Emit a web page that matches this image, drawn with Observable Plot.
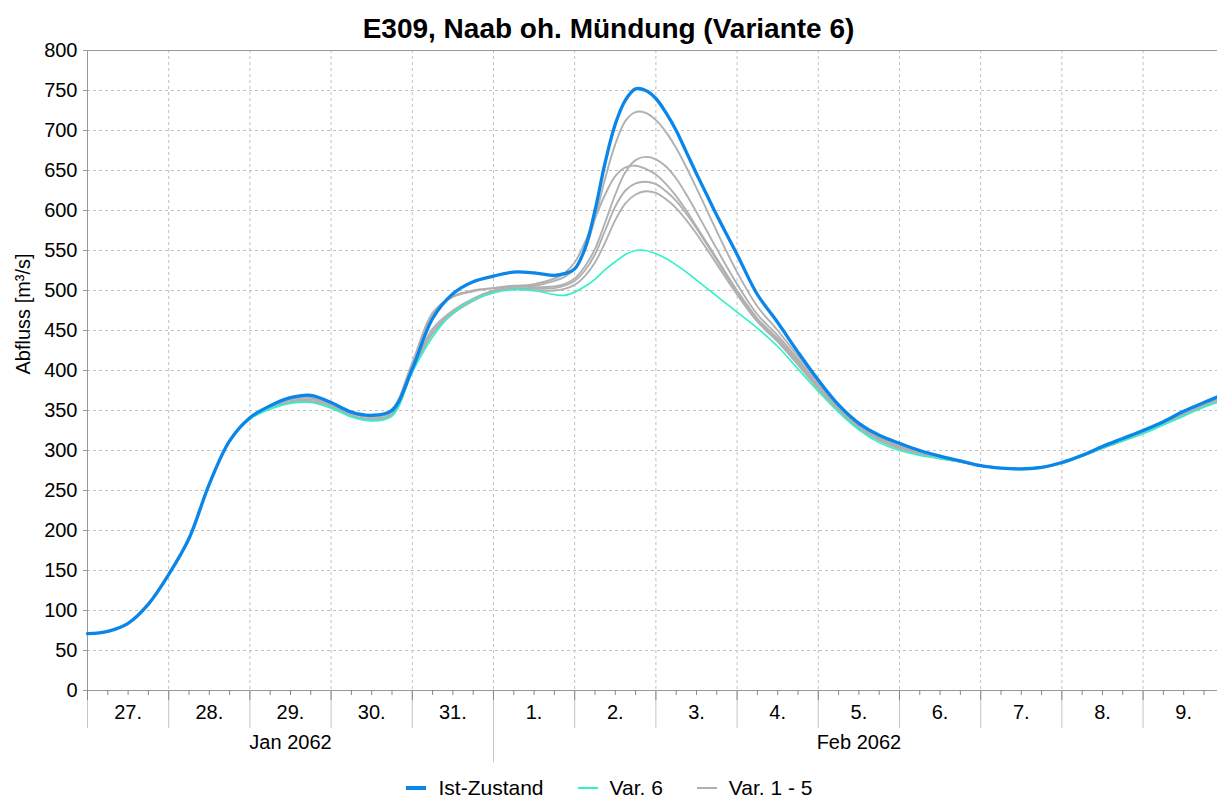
<!DOCTYPE html>
<html><head><meta charset="utf-8">
<script src="https://cdn.jsdelivr.net/npm/d3@7"></script>
<script src="https://cdn.jsdelivr.net/npm/@observablehq/plot@0.6"></script>
<style>
body{margin:0;background:#fff;font-family:"Liberation Sans",Arial,sans-serif;color:#000;}
#title{height:40px;box-sizing:border-box;padding-top:14px;text-align:center;font-weight:bold;font-size:28px;line-height:30px;white-space:nowrap;}
#chart{height:732px;}
#legend{height:28px;box-sizing:border-box;padding-top:3px;display:flex;justify-content:center;align-items:center;font-size:21px;line-height:28px;padding-left:2px;}
.item{display:flex;align-items:center;margin:0 17px;}
.sw{width:20px;margin-right:12px;}
</style></head><body>
<div id="title">E309, Naab oh. Mündung (Variante 6)</div>
<div id="chart"></div>
<div id="legend"></div>
<script>
// ---- data (hours since 27 Jan 2062 00:00) ----
const hours = [0,6,12,18,24,30,36,42,48,54,60,66,72,78,84,90,96,102,108,114,120,126,132,138,
  141,144,147,150,153,156,159,162,165,168,171,174,177,180,183,186,
  192,198,204,210,216,222,228,234,240,246,252,258,264,270,276,282,288,294,300,306,312,318,324,330,334];

const istZustand = [71,74,84,108,145,190,258,312,341,356,366,369,360,348,344,350,402,465,496,511,518,523,522,519,
  521,527,552,600,660,708,738,752,750,740,722,700,673,646,620,594,
  545,495,460,423,388,357,334,319,309,300,293,287,281,278,277,279,285,294,305,315,325,336,349,360,367];

const var6 = [71,74,84,108,145,190,258,312,339,352,359,360,353,342,337,343,398,442,472,488,497,501,500,495,
  494,498,505,514,526,536,545,550,550,546,540,532,523,513,503,493,
  473,453,430,402,374,348,326,310,300,294,290,286,281,278,276,278,284,293,303,312,321,332,343,354,360];

const var1 = [71,74,84,108,145,190,258,312,341,356,366,368,360,348,343,352,410,472,493,500,503,506,506,512,
  517,527,550,590,640,683,712,723,722,713,698,678,654,628,601,574,
  523,480,450,418,386,355,331,316,306,298,292,287,281,278,277,279,285,294,305,314,324,335,347,358,364];
const var2 = [71,74,84,108,145,190,258,312,341,355,364,366,358,346,342,349,408,470,492,499,503,505,504,505,
  508,515,530,552,585,620,648,663,667,664,655,640,620,598,575,552,
  508,470,444,414,383,353,330,315,305,297,291,286,281,278,277,279,285,293,304,313,323,334,346,357,363];
const var3 = [71,74,84,108,145,190,258,312,340,354,362,364,356,344,340,346,400,452,475,490,500,505,508,515,
  522,535,560,590,620,643,654,656,652,645,633,618,600,580,560,540,
  500,465,440,411,380,351,329,314,304,297,291,286,281,278,277,279,284,293,304,313,323,334,346,357,363];
const var4 = [71,74,84,108,145,190,258,312,340,353,361,362,354,343,339,345,400,448,473,488,499,503,502,503,
  506,512,525,545,575,605,625,634,636,633,624,612,596,578,558,538,
  498,463,438,409,378,350,328,313,303,296,290,286,281,278,277,279,284,293,303,312,322,333,345,356,362];
const var5 = [71,74,84,108,145,190,258,312,340,353,360,361,354,343,339,344,399,446,471,487,498,502,500,500,
  502,507,518,535,560,588,609,620,624,622,614,603,588,571,552,533,
  495,461,436,407,377,349,327,313,302,296,290,286,281,278,277,279,284,293,303,312,322,333,345,356,362];

const dayLabels = ["27.","28.","29.","30.","31.","1.","2.","3.","4.","5.","6.","7.","8.","9."];
const monthLabels = ["Jan 2062","Feb 2062"];
const monthSpanDays = [[0,5],[5,14]];   // day offsets from 27 Jan
const yTicks = d3.range(0, 801, 50);

const seriesNames = ["Ist-Zustand","Var. 6","Var. 1 - 5"];
const seriesColors = ["#0a86ea","#33f2c9","#b0b0b0"];
const seriesWidths = [3.3,1.7,1.9];

// ---- build ----
const H = 3600000;
const base = Date.UTC(2062,0,27);
const T = h => new Date(base + h*H);
const rows = (vals, key) => hours.map((h,i) => ({date:T(h), value:vals[i], key}));

const grayRows = [var1,var2,var3,var4,var5].flatMap((v,k) => rows(v, "v"+(k+1)));
const greenRows = rows(var6, "v6");
const blueRows = rows(istZustand, "ist");

const dayStarts = dayLabels.map((d,i) => T(i*24));
const dayMids = dayLabels.map((d,i) => ({date:T(i*24+12), label:d}));
const minor = d3.range(6, 334, 6).filter(h => h % 24 !== 0).map(T);
const monthMids = monthLabels.map((m,i) => ({date:T((monthSpanDays[i][0]+monthSpanDays[i][1])*12), label:m}));
const monthBoundary = [T(monthSpanDays[1][0]*24)];

const chart = Plot.plot({
  width:1217, height:732,
  marginTop:10, marginBottom:82, marginLeft:87, marginRight:0,
  style:{fontFamily:"'Liberation Sans', Arial, sans-serif", fontSize:"20px", color:"#000", background:"#fff"},
  x:{type:"utc", domain:[T(0), T(334)]},
  y:{domain:[0,800]},
  marks:[
    Plot.gridY(yTicks.filter(v => v>0 && v<800), {stroke:"#c0c0c0", strokeOpacity:1, strokeDasharray:"3,3"}),
    Plot.gridX(dayStarts.slice(1), {stroke:"#c0c0c0", strokeOpacity:1, strokeDasharray:"3,3"}),
    Plot.ruleY([0,800], {stroke:"#999"}),
    Plot.ruleX([T(0)], {stroke:"#999"}),
    Plot.axisY(yTicks, {tickSize:4, tickPadding:6, stroke:"#999", fontSize:20, label:null}),
    Plot.axisX(dayStarts, {tickSize:38, stroke:"#c4c4c4", tickFormat:() => "", label:null}),
    Plot.axisX(monthBoundary, {tickSize:72, stroke:"#c4c4c4", tickFormat:() => "", label:null}),
    Plot.axisX(dayStarts, {tickSize:10, stroke:"#888", tickFormat:() => "", label:null}),
    Plot.axisX(minor, {tickSize:5, stroke:"#888", tickFormat:() => "", label:null}),
    Plot.text(dayMids, {x:"date", text:"label", frameAnchor:"bottom", dy:28, fontSize:20, fill:"#000"}),
    Plot.text(monthMids, {x:"date", text:"label", frameAnchor:"bottom", dy:58, fontSize:20, fill:"#000"}),
    Plot.text(["Abfluss [m³/s]"], {frameAnchor:"left", dx:-64, dy:4, rotate:-90, fontSize:20, fill:"#000"}),
    Plot.line(grayRows, {x:"date", y:"value", z:"key", stroke:seriesColors[2], strokeWidth:seriesWidths[2], curve:"catmull-rom"}),
    Plot.line(greenRows, {x:"date", y:"value", stroke:seriesColors[1], strokeWidth:seriesWidths[1], curve:"catmull-rom"}),
    Plot.line(blueRows, {x:"date", y:"value", stroke:seriesColors[0], strokeWidth:seriesWidths[0], curve:"catmull-rom"})
  ]
});
document.getElementById("chart").appendChild(chart);

const legend = document.getElementById("legend");
seriesNames.forEach((n,i) => {
  const it = document.createElement("div"); it.className = "item";
  const sw = document.createElement("div"); sw.className = "sw";
  sw.style.height = (i===0 ? 4 : 2) + "px"; sw.style.background = seriesColors[i];
  const tx = document.createElement("span"); tx.textContent = n;
  it.appendChild(sw); it.appendChild(tx); legend.appendChild(it);
});
</script>
</body></html>
